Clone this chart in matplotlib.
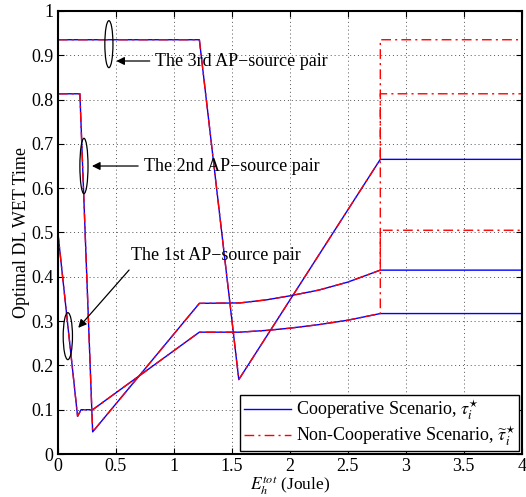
import matplotlib
matplotlib.use("Agg")
import matplotlib.pyplot as plt
from matplotlib.patches import Ellipse

plt.rcParams['font.family'] = ['Liberation Serif', 'DejaVu Serif']
plt.rcParams['mathtext.fontset'] = 'stix'

# ---- data ----
x_pair1 = [0, 0.17, 0.2, 0.3, 1.22, 1.57, 1.8, 2.0, 2.25, 2.5, 2.78, 4]
coop_pair1 = [0.5, 0.085, 0.1, 0.1, 0.275, 0.275, 0.279, 0.284, 0.292, 0.302, 0.317, 0.317]
x_pair2 = [0, 0.19, 0.3, 1.22, 1.57, 1.8, 2.0, 2.25, 2.5, 2.78, 4]
coop_pair2 = [0.813, 0.813, 0.05, 0.34, 0.341, 0.348, 0.357, 0.37, 0.388, 0.415, 0.415]
x_pair3 = [0, 1.22, 1.56, 2.78, 4]
coop_pair3 = [0.935, 0.935, 0.168, 0.665, 0.665]

# non-cooperative: same until switch point, then jumps
switch_x = 2.78
nc_after = [0.505, 0.813, 0.935]

fig = plt.figure(figsize=(5.26, 4.97), dpi=100)
ax = fig.add_axes([0.110, 0.0865, 0.882, 0.8915])

blue = '#0000ff'
red = '#ff0000'
dd = (7, 3, 1.5, 3)

for i, (xs, ys) in enumerate([(x_pair1, coop_pair1), (x_pair2, coop_pair2), (x_pair3, coop_pair3)]):
    ax.plot(xs, ys, color=blue, lw=1.0, label='Cooperative Scenario, $\\tau_i^{\\star}$' if i == 0 else None)
for i, (xs, ys) in enumerate([(x_pair1, coop_pair1), (x_pair2, coop_pair2), (x_pair3, coop_pair3)]):
    xn = [x for x in xs if x <= switch_x] + [switch_x, 4]
    yn = [y for x, y in zip(xs, ys) if x <= switch_x] + [nc_after[i], nc_after[i]]
    ax.plot(xn, yn, color=red, lw=1.0, dashes=dd,
            label='Non-Cooperative Scenario, $\\widetilde{\\tau}_i^{\\star}$' if i == 0 else None)

ax.set_xlim(0, 4)
ax.set_ylim(0, 1)
ax.set_xticks([0, 0.5, 1, 1.5, 2, 2.5, 3, 3.5, 4])
ax.set_xticklabels(['0', '0.5', '1', '1.5', '2', '2.5', '3', '3.5', '4'])
ax.set_yticks([0, 0.1, 0.2, 0.3, 0.4, 0.5, 0.6, 0.7, 0.8, 0.9, 1])
ax.set_yticklabels(['0', '0.1', '0.2', '0.3', '0.4', '0.5', '0.6', '0.7', '0.8', '0.9', '1'])
ax.tick_params(direction='in', top=True, right=True, labelsize=13, length=4, pad=3)
ax.grid(True, linestyle=(0, (1, 3)), color='#555555', lw=0.7)
for s in ax.spines.values():
    s.set_linewidth(1.5)

ax.set_ylabel('Optimal DL WET Time', fontsize=13, labelpad=1)
ax.set_xlabel('$E_h^{tot}$ (Joule)', fontsize=12.5, labelpad=0)

# annotations
for (cx, cy, w, h) in [(0.44, 0.925, 0.07, 0.106), (0.225, 0.65, 0.07, 0.125), (0.086, 0.266, 0.08, 0.106)]:
    ax.add_patch(Ellipse((cx, cy), w, h, fill=False, edgecolor='black', lw=0.9, zorder=5))

ap = dict(arrowstyle='-|>', color='black', lw=0.9, mutation_scale=12)
ax.annotate('The 3rd AP\u2212source pair', xy=(0.48, 0.887), xytext=(0.84, 0.887),
            fontsize=13, va='center', ha='left', arrowprops=ap)
ax.annotate('The 2nd AP\u2212source pair', xy=(0.27, 0.65), xytext=(0.74, 0.65),
            fontsize=13, va='center', ha='left', arrowprops=ap)
ax.annotate('', xy=(0.16, 0.28), xytext=(0.63, 0.42), arrowprops=ap)
ax.text(0.63, 0.447, 'The 1st AP\u2212source pair', fontsize=13, va='center', ha='left')

leg = ax.legend(loc='lower right', fontsize=13, fancybox=False, framealpha=1,
                edgecolor='black', borderaxespad=0.15, handlelength=2.6,
                borderpad=0.2, labelspacing=0.15, handletextpad=0.3)
leg.get_frame().set_linewidth(1.0)

fig.savefig('out.png', dpi=100)
